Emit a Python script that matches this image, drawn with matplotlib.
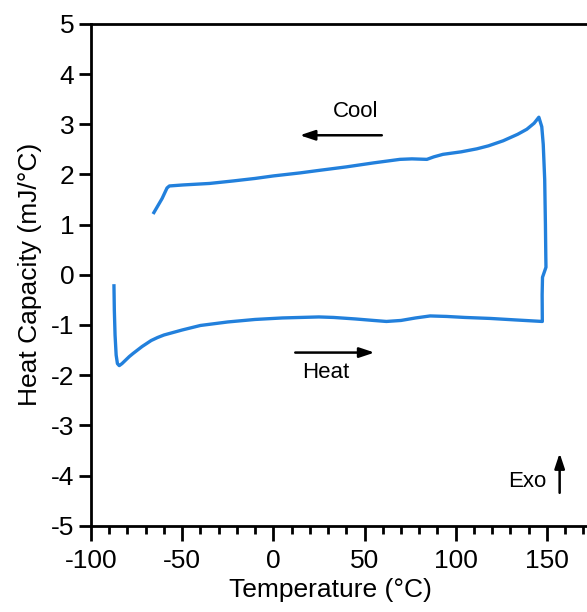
import numpy as np
import matplotlib.pyplot as plt
from matplotlib.ticker import MultipleLocator

plt.rcParams['font.family'] = ['Liberation Sans', 'DejaVu Sans']
plt.rcParams['axes.unicode_minus'] = False

# heating branch, -87 -> 148 C
heat_t = [-87.4, -87.2, -86.8, -86.2, -85.5, -84.5, -83.0, -81.0, -79.0, -77.0, -74.5,
          -72.0, -69.5, -67.0, -63.5, -60.0, -55.0, -50.0, -40.0, -25.0, -10.0, 5.0,
          15.0, 25.0, 33.0, 45.0, 55.0, 62.0, 70.0, 78.0, 86.0, 95.0, 105.0, 119.0,
          133.0, 147.5]
heat_cp = [-0.22, -0.7, -1.2, -1.6, -1.77, -1.81, -1.77, -1.70, -1.63, -1.57, -1.50,
           -1.43, -1.37, -1.31, -1.25, -1.20, -1.15, -1.10, -1.01, -0.94, -0.89, -0.86,
           -0.85, -0.84, -0.85, -0.88, -0.91, -0.93, -0.91, -0.86, -0.82, -0.83, -0.85,
           -0.87, -0.90, -0.93]

# turnaround at the top temperature
turn_t = [147.5, 147.4, 147.6, 149.5, 149.4, 149.2, 148.8, 148.0, 147.2]
turn_cp = [-0.93, -0.4, -0.05, 0.15, 0.4, 1.0, 1.9, 2.6, 2.95]

# cooling branch, 146 -> -65 C
cool_t = [145.6, 143.0, 139.0, 134.0, 126.0, 118.0, 111.6, 103.0, 93.0, 88.0, 84.2,
          76.0, 69.4, 55.0, 40.0, 25.0, 14.6, 0.0, -10.0, -22.0, -35.0, -49.6, -57.0,
          -58.3, -61.0, -65.5]
cool_cp = [3.14, 3.02, 2.90, 2.80, 2.67, 2.57, 2.51, 2.45, 2.40, 2.35, 2.30,
           2.31, 2.30, 2.23, 2.15, 2.08, 2.03, 1.97, 1.92, 1.87, 1.82, 1.79, 1.77,
           1.73, 1.52, 1.24]

temp = heat_t + turn_t + cool_t
cp = heat_cp + turn_cp + cool_cp

fig = plt.figure(figsize=(5.87, 6.12), dpi=100)
ax = fig.add_axes([0.155, 0.141, 0.845, 0.820])
ax.plot(temp, cp, color='#2280dc', lw=2.4)

ax.set_xlim(-100, 172)
ax.set_ylim(-5, 5)
ax.xaxis.set_major_locator(MultipleLocator(50))
ax.xaxis.set_minor_locator(MultipleLocator(10))
ax.yaxis.set_major_locator(MultipleLocator(1))
ax.spines['right'].set_visible(False)
for s in ['left', 'bottom', 'top']:
    ax.spines[s].set_linewidth(2)
ax.tick_params(which='both', direction='out', width=2, labelsize=19)
ax.tick_params(axis='x', which='major', length=11, pad=6)
ax.tick_params(axis='x', which='minor', length=6)
ax.tick_params(axis='y', which='major', length=9, pad=3, right=False)
ax.set_xlabel('Temperature (\u00b0C)', fontsize=19)
ax.set_ylabel('Heat Capacity (mJ/\u00b0C)', fontsize=19)
ax.xaxis.set_label_coords(0.482, -0.105)
ax.yaxis.set_label_coords(-0.098, 0.5)

arrow = dict(arrowstyle='-|>,head_length=0.9,head_width=0.3', color='black', lw=1.8)
ax.annotate('', xy=(13, 2.78), xytext=(61, 2.78), arrowprops=arrow)
ax.text(45, 3.26, 'Cool', fontsize=16, ha='center', va='center')
ax.annotate('', xy=(57, -1.55), xytext=(10.5, -1.55), arrowprops=arrow)
ax.text(29, -1.95, 'Heat', fontsize=16, ha='center', va='center')
ax.annotate('', xy=(157, -3.5), xytext=(157, -4.4), arrowprops=arrow)
ax.text(139, -4.12, 'Exo', fontsize=16, ha='center', va='center')

fig.savefig('out.png', dpi=100)
